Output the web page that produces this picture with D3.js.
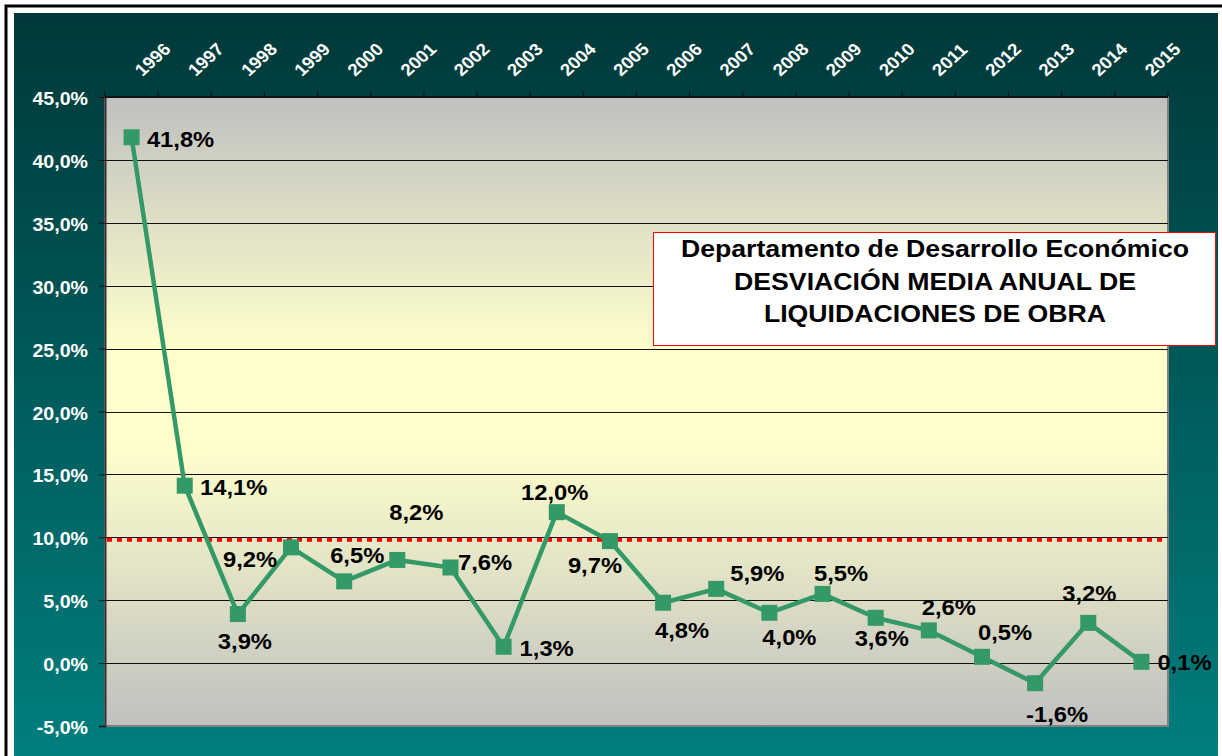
<!DOCTYPE html>
<html>
<head>
<meta charset="utf-8">
<script src="https://cdn.jsdelivr.net/npm/d3@7"></script>
<style>
  html, body { margin: 0; padding: 0; background: #ffffff; }
  svg { display: block; }
</style>
</head>
<body>
<svg id="chart" width="1222" height="756"></svg>
<script>
// ---------- data ----------
const years = ["1996","1997","1998","1999","2000","2001","2002","2003","2004","2005",
               "2006","2007","2008","2009","2010","2011","2012","2013","2014","2015"];
const values = [41.8, 14.1, 3.9, 9.2, 6.5, 8.2, 7.6, 1.3, 12.0, 9.7,
                4.8, 5.9, 4.0, 5.5, 3.6, 2.6, 0.5, -1.6, 3.2, 0.1];
const yTicks = [-5, 0, 5, 10, 15, 20, 25, 30, 35, 40, 45];
const referenceValue = [9.8];
const titleLines = ["Departamento de Desarrollo Económico",
                    "DESVIACIÓN MEDIA ANUAL DE",
                    "LIQUIDACIONES DE OBRA"];
// label centre offsets from each point (placement only)
const labelOffsets = [[49,1.5],[49,1],[7,27],[-41,12],[13,-26],[19,-48],[34.5,-5],[43,1],[-2,-20],[-15,24],
                      [19,27],[41,-16],[20,24],[18.5,-21],[6,20],[20,-23],[23,-25],[22,31],[1,-30],[43,0]];

// ---------- layout ----------
const svg = d3.select("#chart");
const W = 1222, H = 756;
const plot = { left: 105, right: 1168, top: 97, bottom: 726 };
const FONT = "'Liberation Sans', Arial, sans-serif";
const pct = v => d3.format(".1f")(v).replace("−", "-").replace(".", ",") + "%";

const defs = svg.append("defs");
const bgGrad = defs.append("linearGradient").attr("id","bgGrad").attr("x1",0).attr("y1",0).attr("x2",0).attr("y2",1);
bgGrad.append("stop").attr("offset","0").attr("stop-color","#003838");
bgGrad.append("stop").attr("offset","1").attr("stop-color","#008080");
const plotGrad = defs.append("linearGradient").attr("id","plotGrad").attr("x1",0).attr("y1",0).attr("x2",0).attr("y2",1);
plotGrad.append("stop").attr("offset","0").attr("stop-color","#c0c0c0");
plotGrad.append("stop").attr("offset","0.4").attr("stop-color","#ffffcc");
plotGrad.append("stop").attr("offset","0.55").attr("stop-color","#ffffcc");
plotGrad.append("stop").attr("offset","1").attr("stop-color","#c0c0c0");

// outer frame
svg.append("rect").attr("x",0).attr("y",0).attr("width",W).attr("height",H).attr("fill","#ffffff");
svg.append("rect").attr("x",6).attr("y",6).attr("width",W+10).attr("height",H+10)
  .attr("fill","none").attr("stroke","#000").attr("stroke-width",3);
svg.append("rect").attr("x",14).attr("y",13).attr("width",1204).attr("height",H+10).attr("fill","url(#bgGrad)");

// scales
const x = d3.scaleBand().domain(years).range([plot.left, plot.right]).padding(0);
const y = d3.scaleLinear().domain([-5, 45]).range([plot.bottom, plot.top]);
const cx = d => x(d) + x.bandwidth() / 2;

// plot area
svg.append("rect").attr("x",plot.left).attr("y",plot.top)
  .attr("width",plot.right-plot.left).attr("height",plot.bottom-plot.top)
  .attr("fill","url(#plotGrad)").attr("stroke","#808080").attr("stroke-width",2);

// gridlines
svg.append("g").selectAll("line").data(yTicks.filter(t => t > -5 && t < 45)).join("line")
  .attr("x1",plot.left).attr("x2",plot.right)
  .attr("y1",d => Math.round(y(d))+0.5).attr("y2",d => Math.round(y(d))+0.5)
  .attr("stroke","#111").attr("stroke-width",1);

// left axis
const ySx = 1.12;
const yAxis = d3.axisLeft(y).tickValues(yTicks).tickSize(6).tickFormat(pct);
const gy = svg.append("g").attr("transform",`translate(${plot.left},0)`).call(yAxis);
gy.select(".domain").attr("stroke","#333").attr("stroke-width",2);
gy.selectAll(".tick line").attr("stroke","#111");
gy.selectAll(".tick text")
  .attr("fill","#ffffff").attr("font-family",FONT)
  .attr("font-weight","bold").attr("font-size","17.5px")
  .attr("x",-17/ySx).attr("dy",null).attr("y",7.5)
  .attr("transform",`scale(${ySx},1)`).attr("text-anchor","end");

// top axis
const boundaries = years.map(d => x(d)).concat([plot.right]);
svg.append("line").attr("x1",plot.left).attr("x2",plot.right).attr("y1",plot.top).attr("y2",plot.top)
  .attr("stroke","#111").attr("stroke-width",2);
svg.append("g").selectAll("line").data(boundaries).join("line")
  .attr("x1",d => d).attr("x2",d => d).attr("y1",plot.top-6).attr("y2",plot.top)
  .attr("stroke","#111").attr("stroke-width",1);
svg.append("g").selectAll("text").data(years).join("text")
  .attr("transform",d => `translate(${cx(d)+11},77) scale(1.1,1) rotate(-45)`)
  .attr("fill","#ffffff").attr("font-family",FONT)
  .attr("font-weight","bold").attr("font-size","17px").attr("text-anchor","start")
  .text(d => d);

// reference dotted line
svg.append("g").selectAll("line").data(referenceValue).join("line")
  .attr("x1",plot.left+2).attr("x2",plot.right-1)
  .attr("y1",d => y(d)).attr("y2",d => y(d))
  .attr("stroke","#ff0000").attr("stroke-width",4).attr("stroke-dasharray","5,5");

// series line
const pts = years.map((yr,i) => ({yr, v: values[i], off: labelOffsets[i]}));
svg.append("path").datum(pts)
  .attr("d", d3.line().x(d => cx(d.yr)).y(d => y(d.v)))
  .attr("fill","none").attr("stroke","#339966").attr("stroke-width",4.5).attr("stroke-linejoin","round");
svg.append("g").selectAll("rect").data(pts).join("rect")
  .attr("x",d => cx(d.yr)-8).attr("y",d => y(d.v)-8).attr("width",16).attr("height",16)
  .attr("fill","#339966");

// data labels
svg.append("g").selectAll("text").data(pts).join("text")
  .attr("transform",d => `translate(${cx(d.yr)+d.off[0]},${y(d.v)+d.off[1]+8}) scale(1.08,1)`)
  .attr("text-anchor","middle").attr("font-family",FONT)
  .attr("font-weight","bold").attr("font-size","22px").attr("fill","#000")
  .text(d => pct(d.v));

// title box
svg.append("rect").attr("x",653.5).attr("y",232.5).attr("width",562).attr("height",113)
  .attr("fill","#ffffff").attr("stroke","#ff0000").attr("stroke-width",1);
const titleBaselines = [257, 290, 322];
svg.append("g").selectAll("text").data(titleLines).join("text")
  .attr("transform",(d,i) => `translate(935,${titleBaselines[i]}) scale(1.16,1)`)
  .attr("text-anchor","middle").attr("font-family",FONT)
  .attr("font-weight","bold").attr("font-size","23px").attr("fill","#000")
  .text(d => d);
</script>
</body>
</html>
